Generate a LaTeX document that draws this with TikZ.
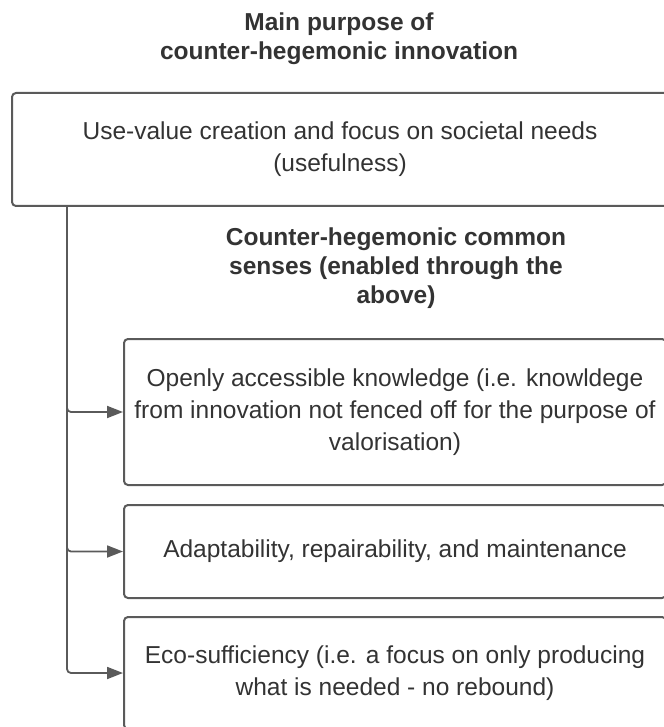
\documentclass[tikz,border=0pt]{standalone}
\usepackage{fontspec}
\setmainfont{Liberation Sans}
\usetikzlibrary{arrows.meta}

\definecolor{edge}{HTML}{5A5A5A}
\definecolor{ink}{HTML}{333333}

\tikzset{
  card/.style={draw=edge, line width=2pt, rounded corners=4pt, fill=white, text=ink,
    align=center, inner sep=0pt, font=\fontsize{24.5}{32}\selectfont},
  heading/.style={text=ink, align=center, font=\bfseries\fontsize{24.5}{29}\selectfont},
  link/.style={draw=edge, line width=1.8pt, rounded corners=4pt,
    -{Triangle[length=16pt,width=12pt]}},
}

\begin{document}
\begin{tikzpicture}[x=1pt,y=-1pt]
\useasboundingbox (0,0) rectangle (663,727);

\node[heading] (title) at (339,39) {Main purpose of\\counter-hegemonic innovation};
\node[card, minimum width=656pt, minimum height=113pt] (purpose) at (340,149.5)
  {Use-value creation and focus on societal needs\\(usefulness)};

\node[heading] (senses) at (396,268) {Counter-hegemonic common\\senses (enabled through the\\above)};

% the three boxes run off the right edge
\node[card, minimum width=542pt, minimum height=146pt] (knowledge) at (395,412)
  {Openly accessible knowledge (i.e. knowldege\\from innovation not fenced off for the purpose of\\valorisation)};
\node[card, minimum width=542pt, minimum height=93pt] (repair) at (395,551.5)
  {Adaptability, repairability, and maintenance};
\node[card, minimum width=542pt, minimum height=112pt] (eco) at (395,673)
  {Eco-sufficiency (i.e. a focus on only producing\\what is needed - no rebound)};

\draw[link] ([xshift=56pt]purpose.south west) |- (knowledge.west);
\draw[link] ([xshift=56pt]purpose.south west) |- (repair.west);
\draw[link] ([xshift=56pt]purpose.south west) |- (eco.west);

\end{tikzpicture}
\end{document}
